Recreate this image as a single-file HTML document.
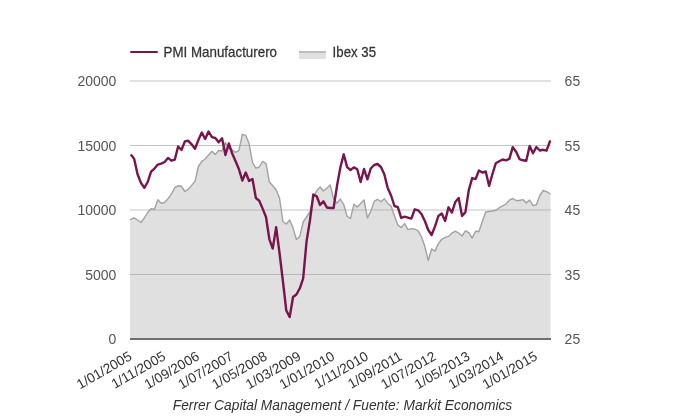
<!DOCTYPE html>
<html><head><meta charset="utf-8"><style>
html,body{margin:0;padding:0;background:#fff;}
svg{display:block;will-change:transform;}
text{font-family:"Liberation Sans",sans-serif;}
</style></head><body>
<svg width="680" height="420" viewBox="0 0 680 420">
<rect width="680" height="420" fill="#fff"/>
<g font-size="14" fill="#333">
<line x1="131" y1="52" x2="157" y2="52" stroke="#7a144c" stroke-width="2" stroke-linecap="round"/>
<text stroke="#333" stroke-width="0.25" transform="translate(163.6,56.7) scale(1,1.08)" textLength="113.4" lengthAdjust="spacingAndGlyphs">PMI Manufacturero</text>
<rect x="299" y="51" width="27" height="8" fill="#e0e0e0"/>
<line x1="299" y1="52" x2="326" y2="52" stroke="#b2b2b2" stroke-width="1.5"/>
<text stroke="#333" stroke-width="0.25" transform="translate(332.6,56.7) scale(1,1.08)" textLength="43.5" lengthAdjust="spacingAndGlyphs">Ibex 35</text>
</g>
<g stroke="#c4c4c4" stroke-width="1">
<line x1="130" y1="81" x2="551" y2="81"/>
<line x1="130" y1="145.5" x2="551" y2="145.5"/>
<line x1="130" y1="210" x2="551" y2="210"/>
<line x1="130" y1="274.5" x2="551" y2="274.5"/>
</g>
<polygon points="130.00,219.7 134.18,217.8 137.56,220.0 140.94,222.5 144.32,218.0 147.70,212.5 151.08,208.7 154.46,209.3 157.84,199.7 161.22,203.3 164.60,202.5 167.98,198.7 171.36,194.2 174.74,187.5 178.12,185.8 181.50,186.3 184.88,191.5 188.26,189.3 191.64,185.4 195.02,181.4 198.40,166.5 201.78,161.4 205.16,159.0 208.54,155.0 211.92,151.2 215.30,154.6 218.68,150.5 222.06,151.0 225.44,142.5 228.82,148.6 232.20,150.0 235.58,152.4 238.96,150.3 242.34,134.3 245.72,135.4 249.10,143.6 252.48,162.5 255.86,168.2 259.24,167.0 262.62,161.4 266.00,163.6 269.38,182.0 272.76,185.7 276.14,190.0 279.52,198.0 282.90,221.5 286.28,224.0 289.66,220.0 293.04,227.9 296.42,239.5 299.80,236.4 303.18,222.0 306.56,217.0 309.94,212.0 313.32,197.5 316.70,190.7 320.08,187.0 323.46,191.0 326.84,188.2 330.22,185.0 333.60,199.0 336.98,203.3 340.36,199.0 343.74,204.5 347.12,216.4 350.50,218.5 353.88,204.3 357.26,207.1 360.64,203.6 364.02,200.0 367.40,217.9 370.78,211.4 374.16,201.4 377.54,199.3 380.92,201.7 384.30,198.7 387.68,203.2 391.06,206.0 394.44,215.7 397.82,225.0 401.20,227.6 404.58,223.6 407.96,229.6 411.34,228.6 414.72,229.0 418.10,230.8 421.48,236.8 424.86,246.5 428.24,260.5 431.62,249.0 435.00,251.1 438.38,243.6 441.76,239.3 445.14,237.4 448.52,236.4 451.90,233.1 455.28,231.2 458.66,233.0 462.04,236.0 465.42,230.9 468.80,232.7 472.18,238.1 475.56,231.2 478.94,231.5 482.32,221.6 485.70,212.0 489.08,211.5 492.46,211.0 495.84,210.2 499.22,207.7 502.60,205.8 505.98,204.0 509.36,200.2 512.74,198.5 516.12,200.5 519.50,200.5 522.88,199.6 526.26,202.9 529.64,200.0 533.02,205.6 536.40,204.8 539.78,195.5 543.16,190.5 546.54,191.7 550.50,194.0 550.5,338 130,338" fill="#999999" fill-opacity="0.3"/>
<polyline points="130.00,219.7 134.18,217.8 137.56,220.0 140.94,222.5 144.32,218.0 147.70,212.5 151.08,208.7 154.46,209.3 157.84,199.7 161.22,203.3 164.60,202.5 167.98,198.7 171.36,194.2 174.74,187.5 178.12,185.8 181.50,186.3 184.88,191.5 188.26,189.3 191.64,185.4 195.02,181.4 198.40,166.5 201.78,161.4 205.16,159.0 208.54,155.0 211.92,151.2 215.30,154.6 218.68,150.5 222.06,151.0 225.44,142.5 228.82,148.6 232.20,150.0 235.58,152.4 238.96,150.3 242.34,134.3 245.72,135.4 249.10,143.6 252.48,162.5 255.86,168.2 259.24,167.0 262.62,161.4 266.00,163.6 269.38,182.0 272.76,185.7 276.14,190.0 279.52,198.0 282.90,221.5 286.28,224.0 289.66,220.0 293.04,227.9 296.42,239.5 299.80,236.4 303.18,222.0 306.56,217.0 309.94,212.0 313.32,197.5 316.70,190.7 320.08,187.0 323.46,191.0 326.84,188.2 330.22,185.0 333.60,199.0 336.98,203.3 340.36,199.0 343.74,204.5 347.12,216.4 350.50,218.5 353.88,204.3 357.26,207.1 360.64,203.6 364.02,200.0 367.40,217.9 370.78,211.4 374.16,201.4 377.54,199.3 380.92,201.7 384.30,198.7 387.68,203.2 391.06,206.0 394.44,215.7 397.82,225.0 401.20,227.6 404.58,223.6 407.96,229.6 411.34,228.6 414.72,229.0 418.10,230.8 421.48,236.8 424.86,246.5 428.24,260.5 431.62,249.0 435.00,251.1 438.38,243.6 441.76,239.3 445.14,237.4 448.52,236.4 451.90,233.1 455.28,231.2 458.66,233.0 462.04,236.0 465.42,230.9 468.80,232.7 472.18,238.1 475.56,231.2 478.94,231.5 482.32,221.6 485.70,212.0 489.08,211.5 492.46,211.0 495.84,210.2 499.22,207.7 502.60,205.8 505.98,204.0 509.36,200.2 512.74,198.5 516.12,200.5 519.50,200.5 522.88,199.6 526.26,202.9 529.64,200.0 533.02,205.6 536.40,204.8 539.78,195.5 543.16,190.5 546.54,191.7 550.50,194.0" fill="none" stroke="#a2a2a2" stroke-width="1.4" stroke-linejoin="round"/>
<line x1="130" y1="339" x2="551" y2="339" stroke="#707070" stroke-width="2"/>
<svg x="130" y="60" width="421" height="290" viewBox="130 60 421 290" overflow="hidden">
<polyline points="131.40,155.2 134.18,158.9 137.56,174.3 140.94,182.9 144.32,187.8 147.70,182.0 151.08,171.7 154.46,168.6 157.84,164.6 161.22,163.6 164.60,162.0 167.98,157.9 171.36,160.7 174.74,159.7 178.12,146.5 181.50,150.0 184.88,141.4 188.26,140.8 191.64,144.3 195.02,148.8 198.40,140.0 201.78,132.5 205.16,139.0 208.54,131.5 211.92,137.2 215.30,138.0 218.68,142.2 222.06,138.3 225.44,155.0 228.82,143.5 232.20,153.5 235.58,161.3 238.96,169.3 242.34,180.5 245.72,172.5 249.10,181.0 252.48,179.0 255.86,198.0 259.24,200.7 262.62,208.6 266.00,217.0 269.38,239.3 272.76,248.6 276.14,227.1 279.52,253.0 282.90,281.0 286.28,310.5 289.66,317.0 293.04,297.0 296.42,294.5 299.80,288.3 303.18,278.3 306.56,241.4 309.94,220.5 313.32,194.5 316.70,196.2 320.08,205.0 323.46,201.3 326.84,207.5 330.22,208.0 333.60,208.0 336.98,186.0 340.36,167.5 343.74,154.3 347.12,167.1 350.50,170.0 353.88,167.4 357.26,169.3 360.64,182.0 364.02,169.0 367.40,179.3 370.78,168.5 374.16,165.0 377.54,164.0 380.92,167.0 384.30,174.3 387.68,187.9 391.06,195.5 394.44,206.0 397.82,207.1 401.20,217.9 404.58,216.7 407.96,217.6 411.34,218.6 414.72,209.3 418.10,210.3 421.48,214.0 424.86,221.0 428.24,230.0 431.62,235.0 435.00,226.4 438.38,216.0 441.76,213.6 445.14,221.0 448.52,207.3 451.90,212.6 455.28,202.0 458.66,198.0 462.04,216.0 465.42,212.1 468.80,190.0 472.18,178.1 475.56,179.1 478.94,170.5 482.32,172.6 485.70,171.5 489.08,185.8 492.46,174.0 495.84,163.2 499.22,161.2 502.60,159.5 505.98,160.3 509.36,158.9 512.74,147.2 516.12,151.8 519.50,159.1 522.88,160.3 526.26,160.7 529.64,146.0 533.02,153.3 536.40,147.0 539.78,150.5 543.16,149.8 546.54,150.7 549.92,141.3" fill="none" stroke="#7a144c" stroke-width="2.4" stroke-linejoin="round" stroke-linecap="round"/>
</svg>
<g font-size="14" fill="#555">
<text transform="translate(116.4,86.3) scale(1,1.1)" text-anchor="end">20000</text>
<text transform="translate(116.4,150.8) scale(1,1.1)" text-anchor="end">15000</text>
<text transform="translate(116.4,215.3) scale(1,1.1)" text-anchor="end">10000</text>
<text transform="translate(116.4,279.8) scale(1,1.1)" text-anchor="end">5000</text>
<text transform="translate(116.4,344.3) scale(1,1.1)" text-anchor="end">0</text>
<text transform="translate(564.6,86.3) scale(1,1.1)">65</text>
<text transform="translate(564.6,150.8) scale(1,1.1)">55</text>
<text transform="translate(564.6,215.3) scale(1,1.1)">45</text>
<text transform="translate(564.6,279.8) scale(1,1.1)">35</text>
<text transform="translate(564.6,344.3) scale(1,1.1)">25</text>
</g>
<g font-size="13.7" fill="#333">
<text transform="translate(132.80,359) rotate(-30)" text-anchor="end">1/01/2005</text>
<text transform="translate(166.60,359) rotate(-30)" text-anchor="end">1/11/2005</text>
<text transform="translate(200.40,359) rotate(-30)" text-anchor="end">1/09/2006</text>
<text transform="translate(234.20,359) rotate(-30)" text-anchor="end">1/07/2007</text>
<text transform="translate(268.00,359) rotate(-30)" text-anchor="end">1/05/2008</text>
<text transform="translate(301.80,359) rotate(-30)" text-anchor="end">1/03/2009</text>
<text transform="translate(335.60,359) rotate(-30)" text-anchor="end">1/01/2010</text>
<text transform="translate(369.40,359) rotate(-30)" text-anchor="end">1/11/2010</text>
<text transform="translate(403.20,359) rotate(-30)" text-anchor="end">1/09/2011</text>
<text transform="translate(437.00,359) rotate(-30)" text-anchor="end">1/07/2012</text>
<text transform="translate(470.80,359) rotate(-30)" text-anchor="end">1/05/2013</text>
<text transform="translate(504.60,359) rotate(-30)" text-anchor="end">1/03/2014</text>
<text transform="translate(538.40,359) rotate(-30)" text-anchor="end">1/01/2015</text>
</g>
<text x="342.5" y="410" text-anchor="middle" font-size="14" font-style="italic" fill="#333" textLength="339.5" lengthAdjust="spacingAndGlyphs">Ferrer Capital Management / Fuente: Markit Economics</text>
</svg>
</body></html>
